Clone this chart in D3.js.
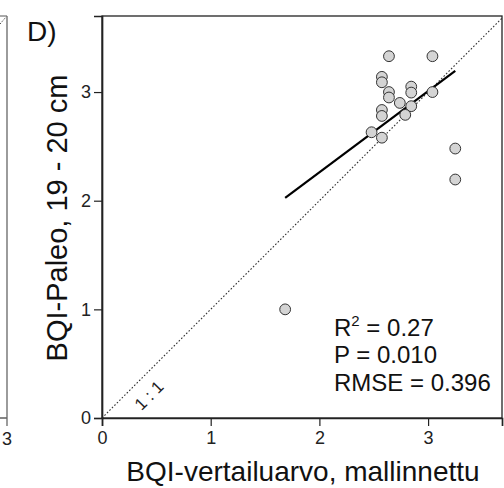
<!DOCTYPE html>
<html>
<head>
<meta charset="utf-8">
<script src="https://cdn.jsdelivr.net/npm/d3@7"></script>
<style>
  html, body { margin: 0; padding: 0; background: #fff; }
  svg { display: block; font-family: "Liberation Sans", Arial, sans-serif; }
</style>
</head>
<body>
<svg id="chart" width="504" height="488"></svg>
<script>
// Modelled reference BQI (x) against paleo BQI at 19-20 cm (y)
const bqiModelled = [2.64, 3.04, 2.575, 2.575, 2.845, 2.64, 2.845, 2.64, 3.04, 2.74, 2.845, 2.79, 2.575, 2.575, 2.48, 2.575, 3.25, 3.25, 1.685];
const bqiPaleo    = [3.33, 3.33, 3.14, 3.09, 3.05, 3.00, 2.995, 2.95, 3.00, 2.90, 2.87, 2.79, 2.835, 2.78, 2.63, 2.58, 2.48, 2.195, 1.00];

// Linear fit (intercept, slope) and its statistics
const fitIntercept = 0.770;
const fitSlope = 0.746;
const statLabels = ["R", "P = 0.010", "RMSE = 0.396"];
const r2Value = "0.27";

const xTicks = [0, 1, 2, 3];
const yTicks = [0, 1, 2, 3];
const panelLetter = "D)";
const xTitle = "BQI-vertailuarvo, mallinnettu";
const yTitle = "BQI-Paleo, 19 - 20 cm";

(function draw() {
  const svg = d3.select("#chart");

  const mLeft = 102, mRight = 502, mTop = 16, mBottom = 418;
  const x = d3.scaleLinear().domain([0, 3.68]).range([mLeft, mRight]);
  const y = d3.scaleLinear().domain([0, 3.7]).range([mBottom, mTop]);

  // Edge of the neighbouring panel C (its right side, x = 3)
  const xPrev = d3.scaleLinear().domain([0, 3]).range([-393, 7]);
  const prev = svg.append("g");
  prev.append("line").attr("x1", 0).attr("x2", xPrev(3)).attr("y1", mTop).attr("y2", mTop)
    .attr("stroke", "#555").attr("stroke-width", 1);
  prev.append("line").attr("x1", 0).attr("x2", xPrev(3)).attr("y1", mBottom).attr("y2", mBottom)
    .attr("stroke", "#444").attr("stroke-width", 1.3);
  prev.append("line").attr("x1", xPrev(3)).attr("x2", xPrev(3)).attr("y1", mTop).attr("y2", mBottom + 8)
    .attr("stroke", "#666").attr("stroke-width", 1.3);
  prev.append("line").attr("x1", 0).attr("y1", 24).attr("x2", xPrev(3) - 1).attr("y2", mTop + 1)
    .attr("stroke", "#444").attr("stroke-width", 1).attr("stroke-dasharray", "1.5,1.5");
  prev.append("text").attr("x", xPrev(3)).attr("y", 445).attr("text-anchor", "middle")
    .attr("font-size", 18).attr("fill", "#222").text("3");

  // Panel letter
  svg.append("text").attr("x", 27).attr("y", 41).attr("font-size", 28).attr("fill", "#111").text(panelLetter);

  const plot = svg.append("g");

  // 1:1 reference line
  plot.append("line")
    .attr("x1", x(0)).attr("y1", y(0))
    .attr("x2", x(3.68)).attr("y2", y(3.68))
    .attr("stroke", "#333").attr("stroke-width", 1.1).attr("stroke-dasharray", "1.6,1.9");

  plot.append("text")
    .attr("transform", `translate(${x(0.47)},${y(0.17)}) rotate(-45)`)
    .attr("text-anchor", "middle").attr("font-size", 17).attr("fill", "#222")
    .text("1 : 1");

  // Regression line over the range of the data
  const [xMin, xMax] = d3.extent(bqiModelled);
  plot.append("line")
    .attr("x1", x(xMin)).attr("y1", y(fitIntercept + fitSlope * xMin))
    .attr("x2", x(xMax)).attr("y2", y(fitIntercept + fitSlope * xMax))
    .attr("stroke", "#000").attr("stroke-width", 2.2);

  // Points
  plot.selectAll("circle.pt")
    .data(d3.range(bqiModelled.length))
    .join("circle")
    .attr("class", "pt")
    .attr("cx", i => x(bqiModelled[i]))
    .attr("cy", i => y(bqiPaleo[i]))
    .attr("r", 5.4)
    .attr("fill", "#d4d4d4")
    .attr("stroke", "#333")
    .attr("stroke-width", 1);

  // Frame
  plot.append("rect")
    .attr("x", mLeft).attr("y", mTop).attr("width", mRight - mLeft).attr("height", mBottom - mTop)
    .attr("fill", "none").attr("stroke", "#222").attr("stroke-width", 1.3);

  // Axes
  const xAxis = d3.axisBottom(x).tickValues(xTicks).tickFormat(d3.format("d")).tickSize(8).tickPadding(5);
  const yAxis = d3.axisLeft(y).tickValues(yTicks).tickFormat(d3.format("d")).tickSize(8).tickPadding(3);

  const gx = svg.append("g").attr("transform", `translate(0,${mBottom})`).call(xAxis);
  const gy = svg.append("g").attr("transform", `translate(${mLeft},0)`).call(yAxis);
  [gx, gy].forEach(g => {
    g.attr("font-size", 18).attr("font-family", "Liberation Sans, Arial, sans-serif");
    g.select(".domain").attr("stroke", "#222").attr("stroke-width", 1.7);
    g.selectAll(".tick line").attr("stroke", "#222").attr("stroke-width", 1.2);
    g.selectAll(".tick text").attr("fill", "#222");
  });

  // Statistics
  const stats = svg.append("g").attr("font-size", 24).attr("fill", "#111");
  const r2 = stats.append("text").attr("x", 334).attr("y", 336);
  r2.append("tspan").text(statLabels[0]);
  r2.append("tspan").attr("font-size", 15).attr("dy", -10).text("2");
  r2.append("tspan").attr("dy", 10).text(" = " + r2Value);
  stats.append("text").attr("x", 334).attr("y", 363).text(statLabels[1]);
  stats.append("text").attr("x", 334).attr("y", 391).text(statLabels[2]);

  // Axis titles
  svg.append("text")
    .attr("x", 303).attr("y", 481)
    .attr("text-anchor", "middle").attr("font-size", 28).attr("fill", "#111")
    .text(xTitle);

  svg.append("text")
    .attr("transform", `translate(67,218) rotate(-90)`)
    .attr("text-anchor", "middle").attr("font-size", 29).attr("fill", "#111")
    .text(yTitle);
})();
</script>
</body>
</html>
